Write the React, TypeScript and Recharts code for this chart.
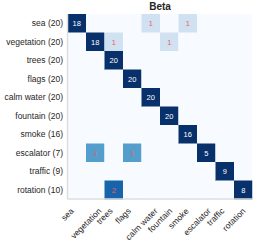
import React from 'react';
import { BarChart, Bar, XAxis, YAxis, Cell, LabelList } from 'recharts';

const title = 'Beta';
const categories = ['sea', 'vegetation', 'trees', 'flags', 'calm water', 'fountain', 'smoke', 'escalator', 'traffic', 'rotation'];
const rowTotals = [20, 20, 20, 20, 20, 20, 16, 7, 9, 10];

const rowSea = [18, 0, 0, 0, 1, 0, 1, 0, 0, 0];
const rowVegetation = [0, 18, 1, 0, 0, 1, 0, 0, 0, 0];
const rowTrees = [0, 0, 20, 0, 0, 0, 0, 0, 0, 0];
const rowFlags = [0, 0, 0, 20, 0, 0, 0, 0, 0, 0];
const rowCalmWater = [0, 0, 0, 0, 20, 0, 0, 0, 0, 0];
const rowFountain = [0, 0, 0, 0, 0, 20, 0, 0, 0, 0];
const rowSmoke = [0, 0, 0, 0, 0, 0, 16, 0, 0, 0];
const rowEscalator = [0, 1, 0, 1, 0, 0, 0, 5, 0, 0];
const rowTraffic = [0, 0, 0, 0, 0, 0, 0, 0, 9, 0];
const rowRotation = [0, 0, 2, 0, 0, 0, 0, 0, 0, 8];

const matrix = [rowSea, rowVegetation, rowTrees, rowFlags, rowCalmWater, rowFountain, rowSmoke, rowEscalator, rowTraffic, rowRotation];

const FONT = '"Liberation Sans", Arial, sans-serif';
const TICK_FS = 8.5;

const BLUES = ['#f7fbff', '#deebf7', '#c6dbef', '#9ecae1', '#6baed6', '#4292c6', '#2171b5', '#08519c', '#08306b'];
function hexToRgb(h: string) {
  return [parseInt(h.slice(1, 3), 16), parseInt(h.slice(3, 5), 16), parseInt(h.slice(5, 7), 16)];
}
function blues(t: number) {
  const tt = Math.max(0, Math.min(1, t)) * (BLUES.length - 1);
  const i = Math.min(BLUES.length - 2, Math.floor(tt));
  const f = tt - i;
  const a = hexToRgb(BLUES[i]);
  const b = hexToRgb(BLUES[i + 1]);
  const c = a.map((v, k) => Math.round(v + (b[k] - v) * f));
  return `rgb(${c[0]},${c[1]},${c[2]})`;
}
function cellColor(v: number, total: number) {
  if (!v) return '#f7fbff';
  return blues(v / total / 0.25);
}

const data = categories.map((name, i) => {
  const row: any = { name: `${name} (${rowTotals[i]})` };
  matrix[i].forEach((v, j) => {
    row['c' + j] = 1;
    row['v' + j] = v;
  });
  return row;
});

let measureCtx: CanvasRenderingContext2D | null = null;
function measure(s: string) {
  if (!measureCtx) {
    const c = document.createElement('canvas');
    measureCtx = c.getContext('2d');
  }
  if (!measureCtx) return s.length * TICK_FS * 0.5;
  measureCtx.font = `${TICK_FS}px "Liberation Sans"`;
  return measureCtx.measureText(s).width;
}

const YTick = (props: any) => {
  const { x, y, payload } = props;
  return (
    <text x={x} y={y} textAnchor="end" dominantBaseline="central" fontSize={TICK_FS} fill="#262626" fontFamily={FONT}>
      {payload.value}
    </text>
  );
};

const XTick = (props: any) => {
  const { x, y, payload } = props;
  const label = categories[payload.value] ?? '';
  const L = measure(label);
  const h = TICK_FS * 1.15;
  const top = y + 7;
  const cy = top + (L + h) * 0.3536;
  return (
    <text
      x={x}
      y={cy}
      textAnchor="middle"
      dominantBaseline="central"
      fontSize={TICK_FS}
      fill="#262626"
      fontFamily={FONT}
      transform={`rotate(-45, ${x}, ${cy})`}
    >
      {label}
    </text>
  );
};

const makeLabel = (col: number) => (p: any) => {
  const { x, y, width, height, value, index } = p;
  if (!value) return null;
  const diag = index === col;
  return (
    <text
      x={Number(x) + Number(width) / 2}
      y={Number(y) + Number(height) / 2}
      textAnchor="middle"
      dominantBaseline="central"
      fontSize={7.5}
      fill={diag ? '#ffffff' : '#f25c5c'}
      fontFamily={FONT}
    >
      {value}
    </text>
  );
};

const FRAME = { stroke: '#dedede', strokeWidth: 1.5 };

export default function App() {
  return (
    <div style={{ position: 'absolute', left: 0, top: 0, width: 257, height: 243 }}>
      <div
        style={{
          position: 'absolute',
          left: 67.5,
          width: 185,
          top: 1,
          lineHeight: '12px',
          textAlign: 'center',
          fontFamily: FONT,
          fontWeight: 'bold',
          fontSize: 10,
          color: '#262626',
        }}
      >
        {title}
      </div>
      <BarChart
        width={257}
        height={243}
        data={data}
        layout="vertical"
        margin={{ top: 14, right: 4.5, bottom: 0, left: 0 }}
        barCategoryGap={0}
        barGap={0}
      >
        <XAxis
          type="number"
          domain={[0, 10]}
          ticks={[0, 1, 2, 3, 4, 5, 6, 7, 8, 9]}
          allowDataOverflow
          height={44}
          tickLine={false}
          tickSize={0}
          tickMargin={0}
          axisLine={FRAME}
          tick={<XTick />}
          interval={0}
        />
        <XAxis
          xAxisId="top"
          orientation="top"
          type="number"
          domain={[0, 10]}
          height={0}
          tick={false}
          tickLine={false}
          axisLine={FRAME}
        />
        <YAxis
          type="category"
          dataKey="name"
          width={67.5}
          tickLine={false}
          tickSize={0}
          tickMargin={4.5}
          axisLine={FRAME}
          tick={<YTick />}
          interval={0}
        />
        <YAxis
          yAxisId="r"
          orientation="right"
          type="category"
          dataKey="name"
          width={0}
          tick={false}
          tickLine={false}
          axisLine={FRAME}
        />
        {categories.map((_, j) => (
          <Bar key={j} dataKey={'c' + j} stackId="m" isAnimationActive={false}>
            {matrix.map((row, i) => (
              <Cell key={i} fill={cellColor(row[j], rowTotals[i])} />
            ))}
            <LabelList dataKey={'v' + j} content={makeLabel(j)} />
          </Bar>
        ))}
      </BarChart>
    </div>
  );
}
